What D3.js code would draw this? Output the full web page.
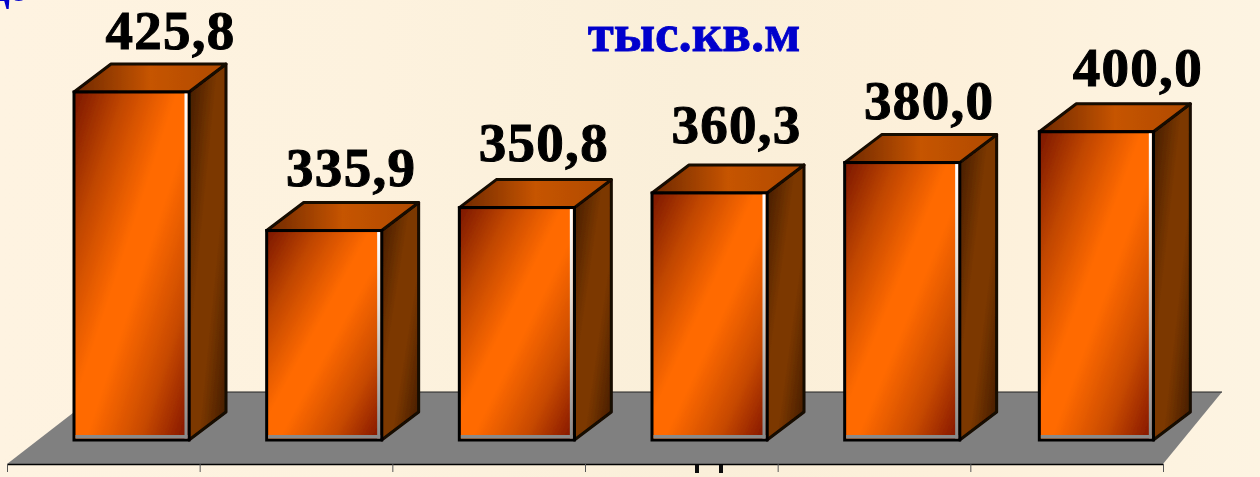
<!DOCTYPE html>
<html>
<head>
<meta charset="utf-8">
<script src="https://cdn.jsdelivr.net/npm/d3@7"></script>
<style>
    html, body { margin: 0; padding: 0; background: #fdf2df; overflow: hidden; }
    svg { display: block; }
    .value { font: bold 55px "Liberation Serif", serif; letter-spacing: 1.3px; fill: #000; stroke: #000; stroke-width: 1; text-anchor: middle; }
    .unit { font: bold 53px "Liberation Serif", serif; fill: #0000cc; stroke: #0000cc; stroke-width: 0.8; text-anchor: middle; }
    .cut { font: bold 36px "Liberation Serif", serif; fill: #0000cc; }
</style>
</head>
<body>
<div id="chart"></div>
<script>
// values, category names are cut off in the original
const categories = ["1", "2", "3", "4", "5", "6"];
const values = [425.8, 335.9, 350.8, 360.3, 380.0, 400.0];
const unitLabel = "тыс.кв.м";

const width = 1260, height = 477;
const floorY = 464, floorBackY = 392, baseY = 440;
const depthX = 37, depthY = 28;
const barOffset = 67, barWidth = 115;

const svg = d3.select("#chart").append("svg")
    .attr("width", width)
    .attr("height", height);

const defs = svg.append("defs");

function gradient(id, x2, y2, stops) {
    const g = defs.append("linearGradient")
        .attr("id", id)
        .attr("x1", 0).attr("y1", 0)
        .attr("x2", x2).attr("y2", y2);
    stops.forEach(s => g.append("stop").attr("offset", s[0]).attr("stop-color", s[1]));
}

gradient("bg", 1, 0, [[0, "#fef3e1"], [0.3, "#fdf2de"], [0.55, "#faefd9"], [0.75, "#fdf0da"], [1, "#fdf4e2"]]);
gradient("front", 1, 1, [[0, "#7a1600"], [0.22, "#c04600"], [0.45, "#ff6a00"], [0.55, "#ff6a00"], [0.78, "#c84a00"], [1, "#7f1200"]]);
gradient("side", 1, 1, [[0, "#3f1a00"], [0.4, "#7c3800"], [0.62, "#7c3800"], [1, "#3f1a00"]]);
gradient("top", 1, 0, [[0, "#6e2800"], [0.5, "#c65400"], [1, "#b04b00"]]);
gradient("edge", 0, 1, [[0, "#ffffff"], [0.35, "#e8e0d8"], [1, "#8a8a8a"]]);

// slight softness, the original is a scaled up picture
defs.append("filter")
    .attr("id", "soft")
    .attr("x", 0).attr("y", 0)
    .attr("width", 1).attr("height", 1)
    .append("feGaussianBlur")
    .attr("stdDeviation", 0.5);

const root = svg.append("g").attr("filter", "url(#soft)");

root.append("rect")
    .attr("width", width)
    .attr("height", height)
    .attr("fill", "url(#bg)");

// scales
const xScale = d3.scaleBand()
    .domain(categories)
    .range([7, 1163]);

const yScale = d3.scaleLinear()
    .domain([200, 425.8])
    .range([baseY, 92]);

const tickScale = d3.scaleLinear()
    .domain([0, categories.length])
    .range([7, 1163]);

// floor
root.append("polygon")
    .attr("points", [[7, floorY], [1163, floorY], [1222, floorBackY], [100, floorBackY]].join(" "))
    .attr("fill", "#808080");

root.append("line")
    .attr("x1", 100).attr("x2", 1222)
    .attr("y1", floorBackY).attr("y2", floorBackY)
    .attr("stroke", "#222")
    .attr("stroke-width", 1);

const xAxis = d3.axisBottom(tickScale)
    .tickValues(d3.range(categories.length + 1))
    .tickSize(8)
    .tickSizeOuter(0)
    .tickFormat("");

const axisGroup = root.append("g")
    .attr("transform", `translate(0, ${floorY})`)
    .call(xAxis);
axisGroup.select(".domain").attr("stroke", "#000").attr("stroke-width", 1.5);
axisGroup.selectAll(".tick line").attr("stroke", "#555").attr("stroke-width", 1);

// stubs of a cut off caption under the floor
root.append("g").selectAll("rect")
    .data([697, 721])
    .join("rect")
    .attr("x", d => d - 2)
    .attr("y", floorY + 1)
    .attr("width", 4)
    .attr("height", 8)
    .attr("fill", "#111");

// bars
const bars = root.append("g").selectAll("g")
    .data(values)
    .join("g");

// the last bar is a little narrower and further right in the original
const barNudge = [0, 0, 0, 0, 0, 2];
const left = (d, i) => xScale(categories[i]) + barOffset + barNudge[i];
const right = (d, i) => xScale(categories[i]) + barOffset + barWidth + (i === 5 ? 1 : 0);
const outline = "#140701";

// side face
bars.append("polygon")
    .attr("points", (d, i) => [
        [right(d, i), yScale(d)],
        [right(d, i) + depthX, yScale(d) - depthY],
        [right(d, i) + depthX, baseY - depthY],
        [right(d, i), baseY]
    ].join(" "))
    .attr("fill", "url(#side)")
    .attr("stroke", outline)
    .attr("stroke-width", 3)
    .attr("stroke-linejoin", "round");

// top face
bars.append("polygon")
    .attr("points", (d, i) => [
        [left(d, i), yScale(d)],
        [left(d, i) + depthX, yScale(d) - depthY],
        [right(d, i) + depthX, yScale(d) - depthY],
        [right(d, i), yScale(d)]
    ].join(" "))
    .attr("fill", "url(#top)")
    .attr("stroke", outline)
    .attr("stroke-width", 3)
    .attr("stroke-linejoin", "round");

// front face
bars.append("rect")
    .attr("x", (d, i) => left(d, i))
    .attr("y", d => yScale(d))
    .attr("width", (d, i) => right(d, i) - left(d, i))
    .attr("height", d => baseY - yScale(d))
    .attr("fill", "url(#front)")
    .attr("stroke", "#000")
    .attr("stroke-width", 3);

// light bevel on the right and bottom of the front face
bars.append("rect")
    .attr("x", (d, i) => right(d, i) - 4.5)
    .attr("y", d => yScale(d) + 1.5)
    .attr("width", 3)
    .attr("height", d => baseY - yScale(d) - 3)
    .attr("fill", "url(#edge)");

bars.append("rect")
    .attr("x", (d, i) => left(d, i) + 1.5)
    .attr("y", baseY - 5)
    .attr("width", (d, i) => right(d, i) - left(d, i) - 3)
    .attr("height", 3.5)
    .attr("fill", "#8a8a8a");

// value labels, the first and last sit a bit further right in the original
const labelNudge = [12, 0, 0, 0, 0, 16];
const labelDrop = [3, 1, -1, -4, 2, 0];
bars.append("text")
    .attr("class", "value")
    .attr("x", (d, i) => xScale(categories[i]) + barOffset + barWidth / 2 + 27 + labelNudge[i])
    .attr("y", (d, i) => yScale(d) - depthY - 18 + labelDrop[i])
    .text(d => d3.format(".1f")(d).replace(".", ","));

root.append("text")
    .attr("class", "unit")
    .attr("x", 694)
    .attr("y", 51)
    .text(unitLabel);

// bottom of a heading that is cut off at the top left
root.append("text")
    .attr("class", "cut")
    .attr("x", -15)
    .attr("y", 1)
    .text("До");
</script>
</body>
</html>
